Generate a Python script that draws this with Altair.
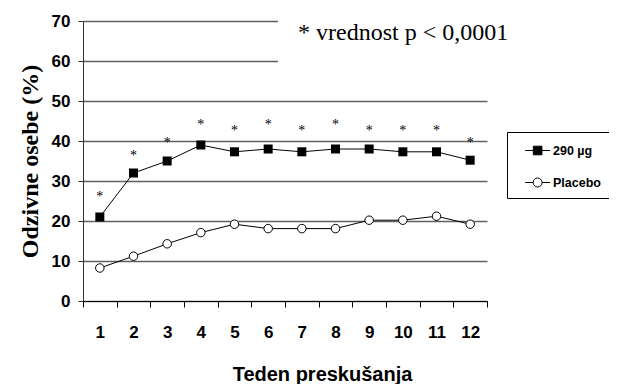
import altair as alt
import pandas as pd

weeks = list(range(1, 13))
dose_290 = [21, 32, 35, 39, 37.3, 38, 37.3, 38, 38, 37.3, 37.3, 35.2]
placebo = [8.25, 11.2, 14.3, 17.1, 19.2, 18.1, 18.1, 18.1, 20.2, 20.2, 21.2, 19.2]
star_y = [26.4, 36.8, 40, 44.6, 42.9, 44.4, 42.9, 44.6, 42.9, 42.9, 42.9, 40]
series_names = ["290 µg", "Placebo"]
y_ticks = [0, 10, 20, 30, 40, 50, 60, 70]
annotation = "* vrednost p < 0,0001"

df = pd.DataFrame({
    "week": weeks * 2,
    "value": dose_290 + placebo,
    "series": [series_names[0]] * 12 + [series_names[1]] * 12,
})
df_star = pd.DataFrame({"week": weeks, "star": star_y})
df_legend = pd.DataFrame({"legend": series_names})

SANS = "Liberation Sans"
SERIF = "Liberation Serif"

x_axis = alt.Axis(
    title="Teden preskušanja", labelAngle=0, tickBand="extent",
    tickSize=6, tickColor="black", domainColor="black", domainWidth=1,
    labelFont=SANS, labelFontSize=17, labelFontWeight="bold",
    labelBaseline="alphabetic", labelPadding=30, labelColor="black",
    titleFont=SANS, titleFontSize=20, titleFontWeight="bold",
    titleColor="black", titleX=239, titleY=79, titleAlign="center",
    titleBaseline="alphabetic", grid=False,
)
y_axis = alt.Axis(
    values=y_ticks, title="Odzivne osebe (%)", grid=True,
    gridColor="#606060", gridWidth=1.4, domainColor="#333",
    tickSize=5, tickColor="#333",
    labelFont=SANS, labelFontSize=17, labelFontWeight="bold",
    labelPadding=8, labelColor="black",
    titleFont=SERIF, titleFontSize=24, titleFontWeight="bold",
    titleColor="black", titleAngle=270, titleX=-46, titleY=140,
    titleAlign="center", titleBaseline="alphabetic",
)
x_scale = alt.Scale(paddingInner=0, paddingOuter=0)
y_scale = alt.Scale(domain=[0, 70], nice=False)

base = alt.Chart(df)

lines = base.mark_line(color="black", strokeWidth=1).encode(
    x=alt.X("week:O", scale=x_scale, axis=x_axis),
    y=alt.Y("value:Q", scale=y_scale, axis=y_axis),
    detail="series:N",
)
pts_290 = base.transform_filter(alt.datum.series == series_names[0]).mark_point(
    shape="square", filled=True, color="black", size=81, opacity=1
).encode(x=alt.X("week:O", axis=x_axis), y=alt.Y("value:Q", axis=y_axis))
pts_pl = base.transform_filter(alt.datum.series == series_names[1]).mark_point(
    shape="circle", fill="white", stroke="black", strokeWidth=1, size=72, opacity=1
).encode(x=alt.X("week:O", axis=x_axis), y=alt.Y("value:Q", axis=y_axis))

stars = alt.Chart(df_star).mark_text(
    text="*", font=SERIF, fontSize=14, color="black", baseline="middle", dy=2
).encode(x=alt.X("week:O", axis=x_axis), y=alt.Y("star:Q", axis=y_axis))

cover = alt.Chart(pd.DataFrame({"a": [0]})).mark_rect(color="white").encode(
    x=alt.value(195), x2=alt.value(410), y=alt.value(-8), y2=alt.value(50)
)
note = alt.Chart(pd.DataFrame({"a": [0]})).mark_text(
    text=annotation, font=SERIF, fontSize=24, color="black",
    align="left", baseline="alphabetic"
).encode(x=alt.value(215), y=alt.value(19))

# legend symbols: line stub with marker, shifted right of the nominal symbol box
sq_path = "M-0.03,0H2.45M0.78,-0.43H1.64V0.43H0.78Z"
circ_path = ("M-0.03,0H0.76M1.66,0H2.45M1.66,0A0.45,0.45,0,1,1,0.76,0"
             "A0.45,0.45,0,1,1,1.66,0Z")
leg_props = dict(
    title=None, symbolStrokeColor="black", symbolStrokeWidth=1,
    symbolOpacity=1, symbolSize=400,
)
legend_layer = alt.Chart(df_legend).mark_point(
    size=0, stroke="black", strokeWidth=1
).encode(
    shape=alt.Shape("legend:N", scale=alt.Scale(domain=series_names, range=[sq_path, circ_path]),
                    legend=alt.Legend(**leg_props)),
    fill=alt.Fill("legend:N", scale=alt.Scale(domain=series_names, range=["black", "white"]),
                  legend=alt.Legend(**leg_props)),
    stroke=alt.Stroke("legend:N", scale=alt.Scale(domain=series_names, range=["black", "black"]),
                      legend=alt.Legend(**leg_props)),
)

chart = alt.layer(cover, lines, pts_290, pts_pl, stars, note, legend_layer).properties(
    width=404, height=280,
    autosize=alt.AutoSizeParams(type="none"),
    padding={"left": 75, "top": 13, "right": 122, "bottom": 83},
).configure_view(stroke=None).configure_legend(
    orient="none", legendX=424, legendY=111, padding=8,
    strokeColor="black", fillColor="white",
    labelFont=SANS, labelFontSize=12.5, labelFontWeight="bold", labelColor="black",
    rowPadding=15, labelOffset=17,
)

chart.save("out.html", embed_options={"renderer": "svg", "actions": False})
